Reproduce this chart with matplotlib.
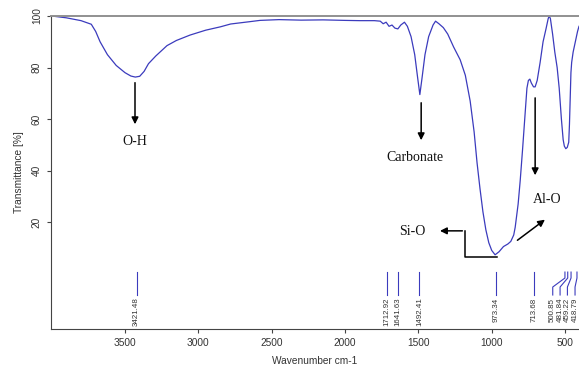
import matplotlib
matplotlib.use("Agg")
import matplotlib.pyplot as plt
import numpy as np

# Spectrum (wavenumber cm-1, transmittance %)
wavenumber = [4000, 3900, 3800, 3730, 3700, 3670, 3620, 3560, 3500, 3460, 3430, 3400,
              3370, 3340, 3290, 3214, 3150, 3057, 2950, 2850, 2780, 2650, 2580, 2450,
              2300, 2150, 2000, 1900, 1800, 1760, 1740, 1720, 1700, 1680, 1660, 1640,
              1620, 1595, 1575, 1550, 1525, 1505, 1490, 1475, 1455, 1430, 1400, 1383,
              1360, 1330, 1300, 1260, 1215, 1180, 1147, 1120, 1100, 1080, 1060, 1040,
              1020, 1000, 977, 950, 920, 890, 870, 850, 840, 820, 806, 790, 775, 760,
              750, 740, 730, 715, 704, 690, 670, 650, 630, 615, 608, 600, 585, 570,
              554, 540, 525, 513, 505, 495, 485, 475, 470, 465, 460, 455, 445, 430,
              415, 405]
transmittance = [100, 99.3, 98.2, 96.8, 94, 90, 85, 80.8, 78, 76.7, 76.3, 76.6,
                 78.5, 81.5, 84.5, 88.5, 90.5, 92.6, 94.5, 95.8, 96.9, 97.8, 98.3, 98.6,
                 98.4, 98.5, 98.3, 98.2, 98.2, 98.0, 97.0, 97.6, 96.0, 96.5, 95.3, 95.0,
                 96.5, 97.6, 96, 92, 85, 76, 69.5, 76, 85, 92, 96.5, 98,
                 97, 95.5, 93, 88, 83, 77, 67, 55, 43, 33, 24, 17,
                 12, 9, 7.3, 8.5, 10.5, 11.5, 12.5, 15, 18, 27, 36, 48, 60, 72,
                 75, 75.5, 74, 72.5, 72.5, 75, 82, 90, 95, 99, 100, 99, 93, 86,
                 80, 72, 60, 52, 49.5, 48.5, 49, 51, 58, 68, 78, 82, 86, 90,
                 94, 96]

# Peak picks
peak_positions = [3421.48, 1712.92, 1641.63, 1492.41, 973.34, 713.68,
                  500.85, 481.84, 459.22, 418.79]
peak_labels = ["3421.48", "1712.92", "1641.63", "1492.41", "973.34", "713.68",
               "500.85", "481.84", "459.22", "418.79"]
# label positions (spread out where crowded)
label_positions = [3421.48, 1712.92, 1641.63, 1492.41, 973.34, 713.68,
                   584, 534, 484, 432]

xticks = [3500, 3000, 2500, 2000, 1500, 1000, 500]
yticks = [20, 40, 60, 80, 100]

line_color = "#3b3bbd"
txt_color = "#333333"
sans = ["Liberation Sans", "DejaVu Sans"]
serif = ["Liberation Serif", "DejaVu Serif"]

fig = plt.figure(figsize=(5.79, 3.69), dpi=100)
ax = fig.add_axes([0.088, 0.1084, 0.912, 0.8482])
ax.plot(wavenumber, transmittance, color=line_color, lw=0.9)
ax.set_xlim(4005, 405)
ax.set_ylim(-21.5, 100)

# peak marks
y_top, y_b1, y_b2, y_bot = 0.6, -1.7, -5.2, -8.3
for pos, lab, lpos in zip(peak_positions, peak_labels, label_positions):
    if abs(pos - lpos) < 1:
        ax.plot([pos, pos], [y_top, y_bot], color=line_color, lw=0.8)
    else:
        ax.plot([pos, pos, lpos, lpos], [y_top, y_b1, y_b2, y_bot], color=line_color, lw=0.8)
    ax.text(lpos, -9.3, lab, rotation=90, ha="center", va="top", fontsize=5.7,
            color=txt_color, family=sans)

# annotations
ap = dict(arrowstyle="-|>", color="black", lw=1.1, mutation_scale=10)
ax.annotate("", xy=(3432, 56.9), xytext=(3432, 75.2), arrowprops=ap)
ax.text(3432, 51.1, "O-H", ha="center", va="center", fontsize=10, family=serif, color="#111111")
ax.annotate("", xy=(1481, 50.7), xytext=(1481, 67.4), arrowprops=ap)
ax.text(1522, 44.9, "Carbonate", ha="center", va="center", fontsize=10, family=serif, color="#111111")
ax.annotate("", xy=(704, 37.1), xytext=(704, 69.3), arrowprops=ap)
ax.text(622, 28.6, "Al-O", ha="center", va="center", fontsize=10, family=serif, color="#111111")
ax.annotate("", xy=(622, 21.6), xytext=(840, 12.3), arrowprops=ap)
ax.plot([963, 1181, 1181], [6.5, 6.5, 16.6], color="black", lw=1.1)
ax.annotate("", xy=(1372, 16.6), xytext=(1181, 16.6), arrowprops=ap)
ax.text(1543, 16.2, "Si-O", ha="center", va="center", fontsize=10, family=serif, color="#111111")

# axes styling
ax.set_xticks(xticks)
ax.set_yticks(yticks)
ax.tick_params(axis="both", direction="out", length=3, width=0.8, color="#444444",
               labelsize=7.3, labelcolor=txt_color)
for lbl in ax.get_xticklabels() + ax.get_yticklabels():
    lbl.set_family(sans)
for lbl in ax.get_yticklabels():
    lbl.set_rotation(90)
    lbl.set_va("center")
ax.spines["right"].set_visible(False)
ax.spines["top"].set_color("#909090")
ax.spines["top"].set_linewidth(1.4)
ax.spines["left"].set_color("#444444")
ax.spines["bottom"].set_color("#444444")
ax.set_xlabel("Wavenumber cm-1", fontsize=7.3, color=txt_color, family=sans, labelpad=6)
ax.set_ylabel("Transmittance [%]", fontsize=7.3, color=txt_color, family=sans, labelpad=6)

fig.savefig("out.png", dpi=100)
